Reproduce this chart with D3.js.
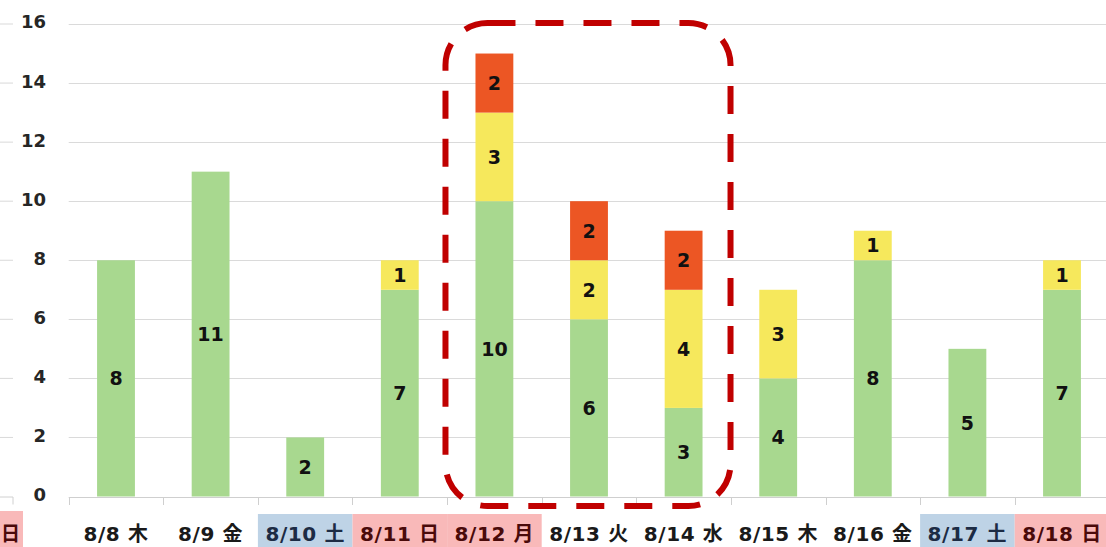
<!DOCTYPE html>
<html>
<head>
<meta charset="utf-8">
<script src="https://cdn.jsdelivr.net/npm/d3@7"></script>
<style>
  html, body { margin: 0; padding: 0; background: #fff; }
  svg { display: block; }
  text { font-family: "DejaVu Sans", "Noto Sans CJK JP", sans-serif; font-weight: bold; }
</style>
</head>
<body>
<svg id="chart" width="1106" height="547"></svg>
<script>
// Daily counts, stacked by level
const dates    = ["8/8", "8/9", "8/10", "8/11", "8/12", "8/13", "8/14", "8/15", "8/16", "8/17", "8/18"];
const weekdays = ["木", "金", "土", "日", "月", "火", "水", "木", "金", "土", "日"];
// day type: 0 = weekday, 1 = Saturday, 2 = Sunday / holiday
const dayTypes = [0, 0, 1, 2, 2, 0, 0, 0, 0, 1, 2];
const greenValues  = [8, 11, 2, 7, 10, 6, 3, 4, 8, 5, 7];
const yellowValues = [0, 0, 0, 1, 3, 2, 4, 3, 1, 0, 1];
const redValues    = [0, 0, 0, 0, 2, 2, 2, 0, 0, 0, 0];
const yTicks = [0, 2, 4, 6, 8, 10, 12, 14, 16];
const highlighted = ["8/12", "8/13", "8/14"];

const svg = d3.select("#chart");
const W = 1106, H = 547;
const plotLeft = 68.7, bandW = 94.6;
const plotRight = plotLeft + dates.length * bandW;

const x = d3.scaleBand().domain(dates).range([plotLeft, plotRight]).paddingInner(0.6).paddingOuter(0.3);
const y = d3.scaleLinear().domain([0, 16]).range([496.5, 24]);

const keys = ["green", "yellow", "red"];
const colors = { green: "#a8d88f", yellow: "#f6e85c", red: "#ec5624" };
const rows = dates.map((d, i) => ({ date: d, green: greenValues[i], yellow: yellowValues[i], red: redValues[i] }));
const stacked = d3.stack().keys(keys)(rows);

// edge of the neighbouring panel on the left
const edge = svg.append("g");
yTicks.slice(1).forEach(t => {
  edge.append("line").attr("x1", 0).attr("x2", 13).attr("y1", y(t)).attr("y2", y(t))
    .attr("stroke", "#d9d9d9").attr("stroke-width", 1);
});
edge.append("path").attr("d", `M0,${y(0) + 0.5}H13V${y(0) + 8}`).attr("fill", "none").attr("stroke", "#d0d0d0");
edge.append("rect").attr("x", 0).attr("y", 511).attr("width", 23).attr("height", H - 511).attr("fill", "#f9b9b9");
edge.append("text").attr("x", 1).attr("y", 541).attr("text-anchor", "start")
  .attr("font-size", 20).attr("fill", "#4a0a0a")
  .attr("textLength", 19).attr("lengthAdjust", "spacingAndGlyphs")
  .text("日");

// horizontal gridlines
svg.append("g").selectAll("line").data(yTicks.slice(1)).join("line")
  .attr("x1", plotLeft).attr("x2", W)
  .attr("y1", d => Math.round(y(d)) + 0.5).attr("y2", d => Math.round(y(d)) + 0.5)
  .attr("stroke", "#dadada").attr("stroke-width", 1);

// y-axis tick labels
svg.append("g").selectAll("text").data(yTicks).join("text")
  .attr("x", 46).attr("y", d => y(d) - 2).attr("dy", "0.36em")
  .attr("text-anchor", "end").attr("font-size", 18).attr("fill", "#262626")
  .text(d => d);

// category baseline with separators
const base = svg.append("g");
base.append("line").attr("x1", plotLeft).attr("x2", W).attr("y1", 497.5).attr("y2", 497.5)
  .attr("stroke", "#cfcfcf").attr("stroke-width", 1);
d3.range(dates.length + 1).forEach(i => {
  const bx = Math.round(plotLeft + i * bandW) + 0.5;
  base.append("line").attr("x1", bx).attr("x2", bx).attr("y1", 497.5).attr("y2", 505)
    .attr("stroke", "#cfcfcf").attr("stroke-width", 1);
});

// stacked bars
const layers = svg.append("g").selectAll("g").data(stacked).join("g")
  .attr("fill", d => colors[d.key]);
layers.selectAll("rect").data(d => d.map(p => ({ p, key: d.key }))).join("rect")
  .attr("x", d => x(d.p.data.date))
  .attr("width", x.bandwidth())
  .attr("y", d => y(d.p[1]))
  .attr("height", d => y(d.p[0]) - y(d.p[1]));

// segment value labels
layers.selectAll("text").data(d => d.filter(p => p[1] - p[0] > 0)).join("text")
  .attr("x", p => x(p.data.date) + x.bandwidth() / 2)
  .attr("y", p => (y(p[0]) + y(p[1])) / 2)
  .attr("dy", "0.36em")
  .attr("text-anchor", "middle").attr("font-size", 19).attr("fill", "#111")
  .text(p => p[1] - p[0]);

// date labels with weekend / holiday shading
const bgColor = ["none", "#bed3e6", "#f9b9b9"];
const fgColor = ["#1a1a1a", "#1c2b44", "#4a0a0a"];
const lab = svg.append("g");
dates.forEach((d, i) => {
  const bx = plotLeft + i * bandW;
  if (dayTypes[i] > 0) {
    lab.append("rect").attr("x", bx).attr("y", 514).attr("width", bandW).attr("height", H - 514)
      .attr("fill", bgColor[dayTypes[i]]);
  }
  lab.append("text").attr("x", bx + bandW / 2).attr("y", 541).attr("text-anchor", "middle")
    .attr("font-size", 20).attr("letter-spacing", 0.6).attr("fill", fgColor[dayTypes[i]])
    .text(`${d} ${weekdays[i]}`);
});

// dashed callout around the highlighted days
const hx0 = x(highlighted[0]) - 30, hx1 = x(highlighted[highlighted.length - 1]) + x.bandwidth() + 28;
svg.append("rect")
  .attr("x", hx0).attr("y", 23).attr("width", hx1 - hx0).attr("height", 506 - 23)
  .attr("rx", 42).attr("ry", 42)
  .attr("fill", "none").attr("stroke", "#c00000").attr("stroke-width", 6)
  .attr("stroke-dasharray", "28 20");
</script>
</body>
</html>
